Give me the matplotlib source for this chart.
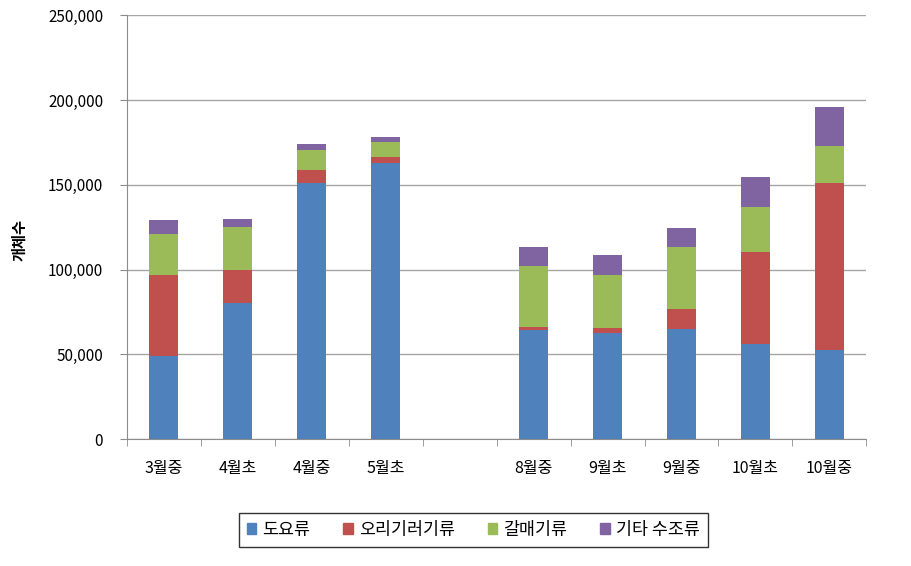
import numpy as np
import matplotlib
matplotlib.use("Agg")
import matplotlib.pyplot as plt
from matplotlib.patches import Patch

plt.rcParams['font.family'] = ['Noto Sans CJK KR', 'DejaVu Sans']

# 구간 (빈 칸 하나 포함)
categories = ['3월중', '4월초', '4월중', '5월초', '', '8월중', '9월초', '9월중', '10월초', '10월중']
series = ['도요류', '오리기러기류', '갈매기류', '기타 수조류']

# 개체수
shorebirds = [49000, 80600, 151000, 162800, 0, 64500, 62500, 65100, 56200, 52700]
waterfowl = [48000, 18900, 7500, 3900, 0, 1900, 3200, 11400, 54300, 98300]
gulls = [24000, 25900, 11800, 8300, 0, 35800, 31200, 37000, 26400, 22200]
others = [8000, 4600, 3500, 3200, 0, 11300, 12000, 10800, 18000, 23000]

colors = ['#4F81BD', '#C0504D', '#9BBB59', '#8064A2']

fig = plt.figure(figsize=(9.12, 5.66), dpi=100)
ax = fig.add_axes([0.139, 0.224, 0.811, 0.749])

x = np.arange(len(categories))
bottom = np.zeros(len(categories))
for vals, c in zip([shorebirds, waterfowl, gulls, others], colors):
    ax.bar(x, vals, width=0.39, bottom=bottom, color=c, zorder=3)
    bottom += np.array(vals)

ax.set_xlim(-0.5, len(categories) - 0.5)
ax.set_ylim(0, 250000)
ax.set_yticks(np.arange(0, 250001, 50000))
ax.yaxis.set_major_formatter(matplotlib.ticker.FuncFormatter(lambda v, p: f'{int(v):,}'))
ax.grid(axis='y', color='#a6a6a6', linewidth=1, zorder=0)

ax.set_xticks(x)
ax.set_xticklabels(categories, fontsize=11.5)
ax.set_xticks(np.arange(-0.5, len(categories), 1), minor=True)
ax.tick_params(axis='x', which='major', length=0, pad=15)
ax.tick_params(axis='x', which='minor', length=5, color='#8c8c8c')
ax.tick_params(axis='y', length=5, color='#8c8c8c', labelsize=11, pad=12)

for s in ['top', 'right']:
    ax.spines[s].set_visible(False)
for s in ['left', 'bottom']:
    ax.spines[s].set_color('#8c8c8c')

ax.set_ylabel('개체수', fontsize=11, fontweight='bold')
ax.yaxis.set_label_coords(-0.135, 0.47)

handles = [Patch(color=c) for c in colors]
leg = fig.legend(handles, series, loc='center', bbox_to_anchor=(0.519, 0.064), ncol=4,
                 frameon=True, fancybox=False, edgecolor='black', fontsize=12.5,
                 handlelength=0.55, handleheight=0.55, handletextpad=0.35, columnspacing=1.9,
                 borderpad=0.45, borderaxespad=0)
leg.get_frame().set_linewidth(1)

fig.savefig('out.png', dpi=100)
